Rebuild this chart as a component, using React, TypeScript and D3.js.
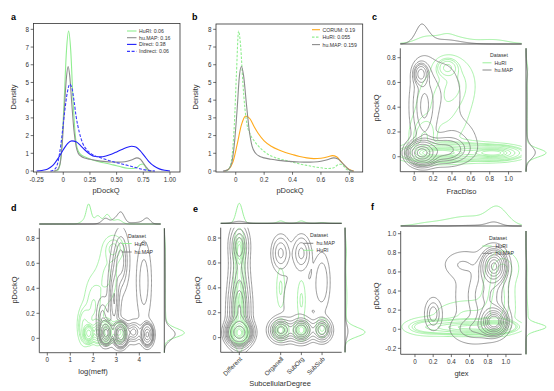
import React, { useMemo } from "react";
import * as d3 from "d3";

const FONT = "'Liberation Sans', Arial, Helvetica, sans-serif";
const C_GREEN = "#90ee90";
const C_GRAY = "#7a7a7a";
const C_BLUE = "#1f1ffa";
const C_BLUE_D = "#3a3aff";
const C_ORANGE = "#ffaa1c";
const C_AXIS = "#333333";

type P = [number, number];
type Comp = [number, number, number, number, number]; // cx, cy, sx, sy, weight

// ---------- Panel a: density curves ----------
const aHuRI: P[] = [[-0.08,0],[-0.05,0.05],[-0.03,0.4],[-0.01,1.8],[0.01,4.2],[0.03,6.8],[0.05,7.9],[0.07,6.8],[0.09,4.2],[0.11,2.2],[0.13,1.3],[0.16,0.95],[0.2,0.8],[0.25,0.68],[0.3,0.58],[0.35,0.5],[0.4,0.44],[0.45,0.37],[0.5,0.3],[0.55,0.22],[0.6,0.16],[0.65,0.14],[0.69,0.2],[0.72,0.36],[0.745,0.4],[0.765,0.28],[0.78,0.1],[0.8,0.02],[0.82,0]];
const aHuMAP: P[] = [[-0.09,0],[-0.06,0.05],[-0.03,0.4],[-0.01,1.5],[0.01,3.5],[0.03,5.3],[0.045,5.9],[0.06,5.4],[0.08,3.8],[0.1,2.3],[0.12,1.4],[0.14,1.0],[0.17,0.82],[0.2,0.74],[0.25,0.66],[0.3,0.6],[0.35,0.56],[0.4,0.53],[0.45,0.51],[0.5,0.5],[0.55,0.51],[0.6,0.55],[0.65,0.65],[0.69,0.74],[0.72,0.68],[0.75,0.45],[0.78,0.2],[0.8,0.06],[0.83,0]];
const aDirect: P[] = [[-0.25,0],[-0.2,0.03],[-0.15,0.1],[-0.1,0.3],[-0.05,0.7],[0,1.2],[0.04,1.55],[0.08,1.7],[0.12,1.65],[0.16,1.45],[0.2,1.2],[0.25,0.95],[0.3,0.82],[0.35,0.8],[0.4,0.85],[0.45,0.95],[0.5,1.08],[0.55,1.22],[0.6,1.34],[0.64,1.4],[0.68,1.35],[0.72,1.15],[0.76,0.85],[0.8,0.55],[0.85,0.28],[0.9,0.12],[0.95,0.04],[1.0,0]];
const aIndirect: P[] = [[-0.12,0],[-0.08,0.1],[-0.05,0.5],[-0.02,1.6],[0.01,3.2],[0.04,4.5],[0.06,4.9],[0.08,4.7],[0.1,4.0],[0.12,3.1],[0.15,2.2],[0.18,1.6],[0.22,1.2],[0.26,0.98],[0.3,0.85],[0.35,0.75],[0.4,0.65],[0.45,0.55],[0.5,0.47],[0.55,0.4],[0.6,0.32],[0.65,0.24],[0.7,0.16],[0.75,0.08],[0.8,0.03],[0.86,0]];
const aLegend = ["HuRI: 0.06", "hu.MAP: 0.16", "Direct: 0.38", "Indirect: 0.06"];
const aXTicks = [-0.25, 0, 0.25, 0.5, 0.75, 1.0];
const aXTickLabels = ["-0.25", "0", "0.25", "0.50", "0.75", "1.00"];
const densTicks = [0, 1, 2, 3, 4, 5, 6, 7, 8];

// ---------- Panel b ----------
const bCORUM: P[] = [[-0.08,0],[-0.05,0.1],[-0.02,0.5],[0.01,1.5],[0.04,2.6],[0.07,3.1],[0.1,2.95],[0.13,2.5],[0.16,2.1],[0.2,1.7],[0.25,1.4],[0.3,1.2],[0.35,1.05],[0.4,0.93],[0.45,0.82],[0.5,0.74],[0.55,0.7],[0.6,0.72],[0.65,0.8],[0.68,0.87],[0.71,0.8],[0.74,0.55],[0.77,0.28],[0.8,0.08],[0.83,0]];
const bHuRI: P[] = [[-0.07,0],[-0.05,0.1],[-0.03,0.6],[-0.01,2.6],[0.005,5.5],[0.02,7.9],[0.035,7.0],[0.05,5.0],[0.065,3.5],[0.08,2.6],[0.1,2.1],[0.13,1.7],[0.16,1.4],[0.2,1.1],[0.25,0.85],[0.3,0.7],[0.35,0.6],[0.4,0.5],[0.45,0.4],[0.5,0.32],[0.55,0.24],[0.6,0.18],[0.65,0.14],[0.69,0.18],[0.72,0.35],[0.74,0.38],[0.76,0.28],[0.78,0.1],[0.8,0.02],[0.82,0]];
const bHuMAP: P[] = [[-0.09,0],[-0.06,0.05],[-0.03,0.4],[-0.01,1.5],[0.01,3.5],[0.025,5.3],[0.04,5.9],[0.055,5.4],[0.075,3.8],[0.095,2.3],[0.115,1.4],[0.14,1.0],[0.17,0.82],[0.2,0.74],[0.25,0.66],[0.3,0.6],[0.35,0.56],[0.4,0.53],[0.45,0.51],[0.5,0.5],[0.55,0.51],[0.6,0.55],[0.65,0.65],[0.69,0.74],[0.72,0.68],[0.75,0.45],[0.78,0.2],[0.8,0.06],[0.83,0]];
const bLegend = ["CORUM: 0.19", "HuRI: 0.055", "hu.MAP: 0.159"];
const bXTicks = [0, 0.2, 0.4, 0.6, 0.8];
const bXTickLabels = ["0", "0.2", "0.4", "0.6", "0.8"];

// ---------- Joint KDE panels: gaussian components ----------
const cHuRI: Comp[] = [[0.25,0.03,0.2,0.035,0.3],[0.85,0.03,0.15,0.03,0.2],[0.55,0.04,0.2,0.04,0.12],[0.35,0.72,0.06,0.04,0.04],[0.3,0.4,0.18,0.2,0.18],[0.45,0.6,0.12,0.12,0.06],[0.1,0.15,0.08,0.1,0.07]];
const cHuMAP: Comp[] = [[0.08,0.03,0.07,0.045,0.35],[0.3,0.05,0.15,0.06,0.15],[0.07,0.67,0.04,0.045,0.05],[0.1,0.4,0.08,0.2,0.15],[0.3,0.5,0.15,0.2,0.1],[0.45,0.15,0.15,0.1,0.05]];
const dHuRI: Comp[] = [[1.8,0.04,0.1,0.03,0.3],[2.2,0.05,0.12,0.04,0.12],[2.6,0.05,0.12,0.04,0.15],[3.1,0.05,0.15,0.04,0.08],[2.0,0.25,0.25,0.15,0.12],[2.6,0.5,0.3,0.15,0.1],[2.9,0.72,0.25,0.06,0.05],[1.6,0.1,0.15,0.08,0.08]];
const dHuMAP: Comp[] = [[2.55,0.04,0.13,0.045,0.13],[3.2,0.03,0.14,0.045,0.27],[4.35,0.03,0.13,0.045,0.12],[3.75,0.05,0.2,0.05,0.05],[2.9,0.3,0.15,0.18,0.12],[3.2,0.62,0.2,0.14,0.12],[4.2,0.45,0.2,0.2,0.1],[2.4,0.15,0.15,0.1,0.05]];
const eHuRI: Comp[] = [[0,0.04,0.16,0.035,0.45],[0,0.3,0.14,0.2,0.2],[0,0.7,0.13,0.08,0.08],[2,0.06,0.18,0.04,0.06],[3,0.06,0.18,0.04,0.06],[4,0.08,0.15,0.04,0.03],[2,0.4,0.12,0.1,0.03],[3,0.3,0.12,0.1,0.03]];
const eHuMAP: Comp[] = [[0,0.04,0.3,0.05,0.25],[0,0.2,0.3,0.15,0.15],[0,0.5,0.28,0.25,0.12],[0,0.75,0.25,0.08,0.04],[2,0.06,0.3,0.05,0.07],[3,0.06,0.3,0.05,0.08],[4,0.06,0.25,0.05,0.05],[2,0.68,0.25,0.08,0.04],[3,0.68,0.25,0.08,0.04],[4,0.45,0.25,0.15,0.04],[2.8,0.3,0.6,0.2,0.07]];
const fHuRI: Comp[] = [[0.65,0.02,0.22,0.035,0.3],[0.88,0.03,0.1,0.035,0.15],[0.35,0.02,0.2,0.04,0.12],[0.1,0.03,0.12,0.05,0.04],[0.92,0.35,0.1,0.2,0.15],[0.6,0.15,0.25,0.1,0.12],[0.98,0.65,0.1,0.1,0.05]];
const fHuMAP: Comp[] = [[0.87,0.66,0.07,0.09,0.3],[0.87,0.08,0.07,0.07,0.28],[0.8,0.35,0.12,0.2,0.2],[0.6,0.35,0.15,0.3,0.1],[0.5,0.68,0.12,0.08,0.03],[0.2,0.16,0.05,0.09,0.04],[0.65,0.0,0.15,0.08,0.06]];

// share of each dataset in the marginal (common norm)
const cShares = [0.55, 0.45];
const dShares = [0.55, 0.45];
const eShares = [0.8, 0.2];
const fShares = [0.92, 0.08];

const pTicks08 = [0, 0.2, 0.4, 0.6, 0.8];
const pTicks08Labels = ["0", "0.2", "0.4", "0.6", "0.8"];
const fracTicks = [0, 0.2, 0.4, 0.6, 0.8, 1.0];
const fracTickLabels = ["0", "0.2", "0.4", "0.6", "0.8", "1.0"];
const meffTicks = [0, 1, 2, 3, 4];
const meffTickLabels = ["0", "1", "2", "3", "4"];
const subTicks = [0, 2, 3, 4];
const subTickLabels = ["Different", "Organell", "SubOrg", "SubSub"];
const fYTicks = [-0.2, 0, 0.2, 0.4, 0.6, 0.8, 1.0];
const fYTickLabels = ["-0.2", "0", "0.2", "0.4", "0.6", "0.8", "1.0"];

// ---------- helpers ----------
function dens2(comps: Comp[], x: number, y: number) {
  let s = 0;
  for (const [cx, cy, sx, sy, w] of comps) {
    const dx = (x - cx) / sx, dy = (y - cy) / sy;
    s += (w / (2 * Math.PI * sx * sy)) * Math.exp(-0.5 * (dx * dx + dy * dy));
  }
  return s;
}
function dens1(comps: Comp[], v: number, axis: 0 | 1) {
  let s = 0;
  for (const c of comps) {
    const m = c[axis], sd = c[axis + 2], w = c[4];
    const z = (v - m) / sd;
    s += (w / (Math.sqrt(2 * Math.PI) * sd)) * Math.exp(-0.5 * z * z);
  }
  return s;
}
function isoLevels(values: Float64Array, n = 10, thresh = 0.05) {
  const sorted = Float64Array.from(values).sort().reverse();
  let total = 0;
  for (let i = 0; i < sorted.length; i++) total += sorted[i];
  const cum = new Float64Array(sorted.length);
  let s = 0;
  for (let i = 0; i < sorted.length; i++) { s += sorted[i]; cum[i] = s / total; }
  const levels: number[] = [];
  for (let k = 0; k < n - 1; k++) {
    const q = thresh + (k * (1 - thresh)) / (n - 1);
    const idx = Math.min(d3.bisectLeft(cum as any, 1 - q), sorted.length - 1);
    levels.push(sorted[idx]);
  }
  return levels.sort((a, b) => a - b);
}

function Ticks({ box, xs, ys, xTicks, xLabels, yTicks, yLabels, rotateX }: any) {
  return (
    <g fontFamily={FONT} fontSize={6.3} fill={C_AXIS}>
      {xTicks.map((t: number, i: number) => (
        <g key={"x" + i}>
          <line x1={xs(t)} x2={xs(t)} y1={box.b} y2={box.b + 2.8} stroke={C_AXIS} strokeWidth={0.7} />
          {rotateX ? (
            <text transform={`translate(${xs(t) + 2},${box.b + 6}) rotate(-45)`} textAnchor="end" dominantBaseline="middle">{xLabels[i]}</text>
          ) : (
            <text x={xs(t)} y={box.b + 9.5} textAnchor="middle">{xLabels[i]}</text>
          )}
        </g>
      ))}
      {yTicks.map((t: number, i: number) => (
        <g key={"y" + i}>
          <line x1={box.l - 2.8} x2={box.l} y1={ys(t)} y2={ys(t)} stroke={C_AXIS} strokeWidth={0.7} />
          <text x={box.l - 4.5} y={ys(t)} textAnchor="end" dominantBaseline="central">{yLabels[i]}</text>
        </g>
      ))}
    </g>
  );
}

function DensityPanel(props: any) {
  const { id, box, xDomain, yDomain, series, xTicks, xLabels, letter, letterPos, xLabelPos, yLabelPos, legend } = props;
  const xs = d3.scaleLinear().domain(xDomain).range([box.l, box.r]);
  const ys = d3.scaleLinear().domain(yDomain).range([box.b, box.t]);
  const line = d3.line<P>().x((d) => xs(d[0])).y((d) => ys(d[1])).curve(d3.curveMonotoneX);
  return (
    <g>
      <clipPath id={id}><rect x={box.l} y={box.t} width={box.r - box.l} height={box.b - box.t} /></clipPath>
      <g clipPath={`url(#${id})`}>
        {series.map((s: any, i: number) => (
          <path key={i} d={line(s.data) || ""} fill="none" stroke={s.color} strokeWidth={1.1} strokeDasharray={s.dash || undefined} />
        ))}
      </g>
      <rect x={box.l} y={box.t} width={box.r - box.l} height={box.b - box.t} fill="none" stroke={C_AXIS} strokeWidth={0.8} />
      <Ticks box={box} xs={xs} ys={ys} xTicks={xTicks} xLabels={xLabels} yTicks={densTicks} yLabels={densTicks.map(String)} />
      <text x={letterPos[0]} y={letterPos[1]} fontFamily={FONT} fontWeight="bold" fontSize={9}>{letter}</text>
      <text x={xLabelPos[0]} y={xLabelPos[1]} fontFamily={FONT} fontSize={7.5} fill={C_AXIS} textAnchor="middle">pDockQ</text>
      <text transform={`translate(${yLabelPos[0]},${yLabelPos[1]}) rotate(-90)`} fontFamily={FONT} fontSize={7.5} fill={C_AXIS} textAnchor="middle">Density</text>
      <g fontFamily={FONT} fontSize={5.2} fill={C_AXIS}>
        {series.map((s: any, i: number) => (
          <g key={i}>
            <line x1={legend.x0} x2={legend.x1} y1={legend.rows[i]} y2={legend.rows[i]} stroke={s.color} strokeWidth={1.1} strokeDasharray={s.dash || undefined} />
            <text x={legend.tx} y={legend.rows[i]} dominantBaseline="central">{s.label}</text>
          </g>
        ))}
      </g>
    </g>
  );
}

function JointPanel(props: any) {
  const { id, box, xDomain, yDomain, topBase, rightBase, margH, datasets, xTicks, xLabels, yTicks, yLabels, rotateX,
    letter, letterPos, xLabel, xLabelPos, yLabelPos, legend } = props;
  const xs = d3.scaleLinear().domain(xDomain).range([box.l, box.r]);
  const ys = d3.scaleLinear().domain(yDomain).range([box.b, box.t]);

  const computed = useMemo(() => {
    const nx = 150, ny = 130;
    const xr = xDomain[1] - xDomain[0], yr = yDomain[1] - yDomain[0];
    const gx0 = xDomain[0] - 0.15 * xr, gx1 = xDomain[1] + 0.15 * xr;
    const gy0 = yDomain[0] - 0.15 * yr, gy1 = yDomain[1] + 0.15 * yr;
    const dx = (gx1 - gx0) / (nx - 1), dy = (gy1 - gy0) / (ny - 1);
    const contourSets = datasets.map((ds: any) => {
      const vals = new Float64Array(nx * ny);
      for (let j = 0; j < ny; j++)
        for (let i = 0; i < nx; i++) vals[i + j * nx] = dens2(ds.comps, gx0 + i * dx, gy0 + j * dy);
      const levels = isoLevels(vals);
      const polys = d3.contours().size([nx, ny]).thresholds(levels)(Array.from(vals));
      return polys.map((mp) => {
        let d = "";
        for (const poly of mp.coordinates)
          for (const ring of poly) {
            ring.forEach((pt, k) => {
              const px = xs(gx0 + (pt[0] - 0.5) * dx);
              const py = ys(gy0 + (pt[1] - 0.5) * dy);
              d += (k === 0 ? "M" : "L") + px.toFixed(2) + "," + py.toFixed(2);
            });
            d += "Z";
          }
        return d;
      });
    });
    const xsamp = d3.range(0, 241).map((k) => xDomain[0] + (k / 240) * xr);
    const ysamp = d3.range(0, 241).map((k) => yDomain[0] + (k / 240) * yr);
    const mx = datasets.map((ds: any) => xsamp.map((v) => ds.share * dens1(ds.comps, v, 0)));
    const my = datasets.map((ds: any) => ysamp.map((v) => ds.share * dens1(ds.comps, v, 1)));
    const maxX = d3.max(mx.flat() as number[]) || 1;
    const maxY = d3.max(my.flat() as number[]) || 1;
    const topPaths = mx.map((arr: number[]) =>
      d3.line<number>().x((_, k) => xs(xsamp[k])).y((v) => topBase - (v / maxX) * margH)(arr) || "");
    const rightPaths = my.map((arr: number[]) =>
      d3.line<number>().x((v) => rightBase + (v / maxY) * margH).y((_, k) => ys(ysamp[k]))(arr) || "");
    return { contourSets, topPaths, rightPaths };
  }, []);

  return (
    <g>
      <clipPath id={id}><rect x={box.l} y={box.t} width={box.r - box.l} height={box.b - box.t} /></clipPath>
      <g clipPath={`url(#${id})`}>
        {computed.contourSets.map((set: string[], i: number) =>
          set.map((d, k) => <path key={i + "-" + k} d={d} fill="none" stroke={datasets[i].color} strokeWidth={0.75} />)
        )}
      </g>
      {computed.topPaths.map((d: string, i: number) => (
        <path key={"t" + i} d={d} fill="none" stroke={datasets[i].color} strokeWidth={0.9} />
      ))}
      {computed.rightPaths.map((d: string, i: number) => (
        <path key={"r" + i} d={d} fill="none" stroke={datasets[i].color} strokeWidth={0.9} />
      ))}
      <line x1={box.l} x2={box.r} y1={topBase} y2={topBase} stroke={C_AXIS} strokeWidth={0.8} />
      <line x1={rightBase} x2={rightBase} y1={box.t} y2={box.b} stroke={C_AXIS} strokeWidth={0.8} />
      <line x1={box.l} x2={box.l} y1={box.t} y2={box.b} stroke={C_AXIS} strokeWidth={0.8} />
      <line x1={box.l} x2={box.r} y1={box.b} y2={box.b} stroke={C_AXIS} strokeWidth={0.8} />
      <Ticks box={box} xs={xs} ys={ys} xTicks={xTicks} xLabels={xLabels} yTicks={yTicks} yLabels={yLabels} rotateX={rotateX} />
      <text x={letterPos[0]} y={letterPos[1]} fontFamily={FONT} fontWeight="bold" fontSize={9}>{letter}</text>
      <text x={xLabelPos[0]} y={xLabelPos[1]} fontFamily={FONT} fontSize={7.5} fill={C_AXIS} textAnchor="middle">{xLabel}</text>
      <text transform={`translate(${yLabelPos[0]},${yLabelPos[1]}) rotate(-90)`} fontFamily={FONT} fontSize={7.5} fill={C_AXIS} textAnchor="middle">pDockQ</text>
      <g fontFamily={FONT} fontSize={5.2} fill={C_AXIS}>
        <text x={legend.titleX} y={legend.titleY} textAnchor="middle" dominantBaseline="central">Dataset</text>
        {legend.order.map((di: number, r: number) => (
          <g key={r}>
            <line x1={legend.x0} x2={legend.x1} y1={legend.rows[r]} y2={legend.rows[r]} stroke={datasets[di].color} strokeWidth={0.9} />
            <text x={legend.tx} y={legend.rows[r]} dominantBaseline="central">{datasets[di].name}</text>
          </g>
        ))}
      </g>
    </g>
  );
}

export default function App() {
  return (
    <svg width={554} height={391} viewBox="0 0 554 391" style={{ position: "absolute", left: 0, top: 0, background: "#fff" }}>
      <rect width={554} height={391} fill="#fff" />
      <DensityPanel id="ca" box={{ l: 33.5, r: 180, t: 23.5, b: 172 }} xDomain={[-0.279, 1.094]} yDomain={[-0.056, 8.33]}
        series={[
          { data: aHuRI, color: C_GREEN, label: aLegend[0] },
          { data: aHuMAP, color: "#8c8c8c", label: aLegend[1] },
          { data: aDirect, color: C_BLUE, label: aLegend[2] },
          { data: aIndirect, color: C_BLUE_D, dash: "3,1.6", label: aLegend[3] },
        ]}
        xTicks={aXTicks} xLabels={aXTickLabels} letter="a" letterPos={[11, 20]} xLabelPos={[106, 193]} yLabelPos={[16, 97]}
        legend={{ x0: 127, x1: 136.5, tx: 139, rows: [31, 37.7, 44.4, 51.4] }} />
      <DensityPanel id="cb" box={{ l: 216, r: 362.7, t: 24, b: 172 }} xDomain={[-0.139, 0.894]} yDomain={[-0.056, 8.3]}
        series={[
          { data: bCORUM, color: C_ORANGE, label: bLegend[0] },
          { data: bHuRI, color: C_GREEN, dash: "2.5,1.5", label: bLegend[1] },
          { data: bHuMAP, color: "#8c8c8c", label: bLegend[2] },
        ]}
        xTicks={bXTicks} xLabels={bXTickLabels} letter="b" letterPos={[192, 20]} xLabelPos={[290, 193]} yLabelPos={[198, 97]}
        legend={{ x0: 312, x1: 320, tx: 322.5, rows: [29.7, 37.1, 44.6] }} />
      <JointPanel id="cc" box={{ l: 400.3, r: 521.7, t: 48.3, b: 171.7 }} xDomain={[-0.148, 1.139]} yDomain={[-0.121, 0.876]}
        topBase={44} rightBase={526} margH={20}
        datasets={[
          { name: "HuRI", color: C_GREEN, comps: cHuRI, share: cShares[0] },
          { name: "hu.MAP", color: C_GRAY, comps: cHuMAP, share: cShares[1] },
        ]}
        xTicks={fracTicks} xLabels={fracTickLabels} yTicks={pTicks08} yLabels={pTicks08Labels}
        letter="c" letterPos={[372, 20]} xLabel="FracDiso" xLabelPos={[461.5, 194]} yLabelPos={[379, 108]}
        legend={{ titleX: 499, titleY: 55, x0: 482.5, x1: 491.5, tx: 494.5, rows: [62.8, 70], order: [0, 1] }} />
      <JointPanel id="cd" box={{ l: 39.3, r: 160.7, t: 228.3, b: 352.7 }} xDomain={[-0.348, 4.93]} yDomain={[-0.115, 0.88]}
        topBase={224} rightBase={164.3} margH={20}
        datasets={[
          { name: "HuRI", color: C_GREEN, comps: dHuRI, share: dShares[0] },
          { name: "hu.MAP", color: C_GRAY, comps: dHuMAP, share: dShares[1] },
        ]}
        xTicks={meffTicks} xLabels={meffTickLabels} yTicks={pTicks08} yLabels={pTicks08Labels}
        letter="d" letterPos={[11, 211]} xLabel="log(meff)" xLabelPos={[93, 374]} yLabelPos={[17, 290]}
        legend={{ titleX: 137, titleY: 236, x0: 121.7, x1: 131.7, tx: 134.5, rows: [243.5, 252], order: [0, 1] }} />
      <JointPanel id="ce" box={{ l: 220.7, r: 341.7, t: 227.7, b: 352.3 }} xDomain={[-0.9, 4.95]} yDomain={[-0.118, 0.883]}
        topBase={223.3} rightBase={345} margH={20}
        datasets={[
          { name: "HuRI", color: C_GREEN, comps: eHuRI, share: eShares[0] },
          { name: "hu.MAP", color: C_GRAY, comps: eHuMAP, share: eShares[1] },
        ]}
        xTicks={subTicks} xLabels={subTickLabels} yTicks={pTicks08} yLabels={pTicks08Labels} rotateX={true}
        letter="e" letterPos={[193, 212]} xLabel="SubcellularDegree" xLabelPos={[280, 386]} yLabelPos={[200, 290]}
        legend={{ titleX: 319, titleY: 235, x0: 303.3, x1: 313.3, tx: 316.5, rows: [243.3, 250.3], order: [1, 0] }} />
      <JointPanel id="cf" box={{ l: 400.7, r: 521.7, t: 231, b: 354.3 }} xDomain={[-0.157, 1.173]} yDomain={[-0.262, 1.028]}
        topBase={226} rightBase={526} margH={20}
        datasets={[
          { name: "HuRI", color: C_GREEN, comps: fHuRI, share: fShares[0] },
          { name: "hu.MAP", color: C_GRAY, comps: fHuMAP, share: fShares[1] },
        ]}
        xTicks={fracTicks} xLabels={fracTickLabels} yTicks={fYTicks} yLabels={fYTickLabels}
        letter="f" letterPos={[371, 210]} xLabel="gtex" xLabelPos={[461.5, 376]} yLabelPos={[379, 296]}
        legend={{ titleX: 498, titleY: 238.3, x0: 482.3, x1: 491.7, tx: 495.5, rows: [246, 253.3], order: [0, 1] }} />
    </svg>
  );
}
